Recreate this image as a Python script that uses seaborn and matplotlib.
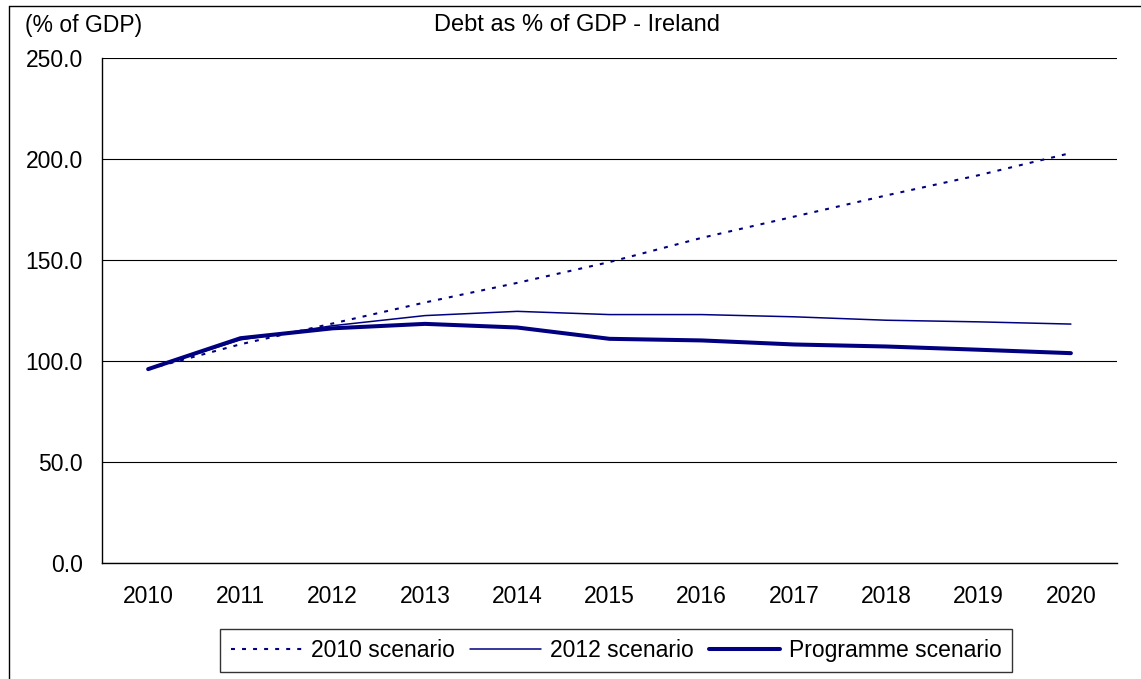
import matplotlib.pyplot as plt
import pandas as pd
import seaborn as sns
from matplotlib.lines import Line2D

years = [2010, 2011, 2012, 2013, 2014, 2015, 2016, 2017, 2018, 2019, 2020]
scen_2010 = [96.0, 108.3, 118.6, 129.0, 138.7, 149.0, 161.0, 171.5, 182.0, 192.0, 203.0]
scen_2012 = [96.0, 110.5, 117.5, 122.5, 124.6, 123.0, 123.0, 121.9, 120.2, 119.4, 118.3]
programme = [96.0, 111.3, 116.2, 118.4, 116.6, 111.0, 110.2, 108.2, 107.2, 105.6, 103.9]
yticks = [0, 50, 100, 150, 200, 250]

df = pd.DataFrame({"year": years, "2010 scenario": scen_2010,
                   "2012 scenario": scen_2012, "Programme scenario": programme})

sns.set_style("white")
plt.rcParams["font.family"] = ["Liberation Sans", "DejaVu Sans"]
plt.rcParams["font.size"] = 16.5
plt.rcParams["text.color"] = "black"
plt.rcParams["xtick.color"] = "black"
plt.rcParams["ytick.color"] = "black"
plt.rcParams["xtick.labelcolor"] = "black"
plt.rcParams["ytick.labelcolor"] = "black"

fig = plt.figure(figsize=(11.41, 6.79), dpi=100)
ax = fig.add_axes([0.0894, 0.1708, 0.8896, 0.7437])

navy = "#000080"
sns.lineplot(df, x="year", y="2010 scenario", ax=ax, color=navy, lw=1.5,
             linestyle=(0, (1.9, 3.4)), label="2010 scenario")
sns.lineplot(df, x="year", y="2012 scenario", ax=ax, color=navy, lw=1.1,
             label="2012 scenario")
sns.lineplot(df, x="year", y="Programme scenario", ax=ax, color=navy, lw=2.9,
             label="Programme scenario")

ax.set_xlim(years[0] - 0.5, years[-1] + 0.5)
ax.set_ylim(0, 250)
ax.set_yticks(yticks)
ax.set_yticklabels([f"{v:.1f}" for v in yticks])
ax.set_xticks(years)
ax.set_xticklabels([str(y) for y in years])
ax.set_xticks([y - 0.5 for y in years] + [years[-1] + 0.5], minor=True)
ax.tick_params(axis="x", which="major", length=0, pad=15.5)
ax.tick_params(axis="x", which="minor", length=3.6, width=1, color="black", direction="out")
ax.tick_params(axis="y", length=3.6, width=1, color="black", direction="out", pad=10)
ax.yaxis.grid(True, color="black", lw=0.8)
ax.set_axisbelow(True)
for s in ["top", "right"]:
    ax.spines[s].set_visible(False)
for s in ["left", "bottom"]:
    ax.spines[s].set_color("black")
    ax.spines[s].set_linewidth(1)
ax.set_xlabel("")
ax.set_ylabel("")

fig.text(0.506, 0.963, "Debt as % of GDP - Ireland", ha="center", va="center", fontsize=17)
fig.text(0.022, 0.963, "(% of GDP)", ha="left", va="center", fontsize=16.5)

leg = ax.legend(loc="center", bbox_to_anchor=(0.540, 0.042), bbox_transform=fig.transFigure,
                ncol=3, frameon=True, fancybox=False, handlelength=3.1, handletextpad=0.4,
                columnspacing=0.65, borderpad=0.45, fontsize=16.5)
leg.get_frame().set_edgecolor("black")
leg.get_frame().set_linewidth(1)

# chart border: only the top and left edges are visible in the original
fig.add_artist(Line2D([9 / 1141, 1], [1 - 6 / 679, 1 - 6 / 679], transform=fig.transFigure,
                      color="black", lw=1))
fig.add_artist(Line2D([9 / 1141, 9 / 1141], [0, 1 - 6 / 679], transform=fig.transFigure,
                      color="black", lw=1))

fig.savefig("out.png", dpi=100)
